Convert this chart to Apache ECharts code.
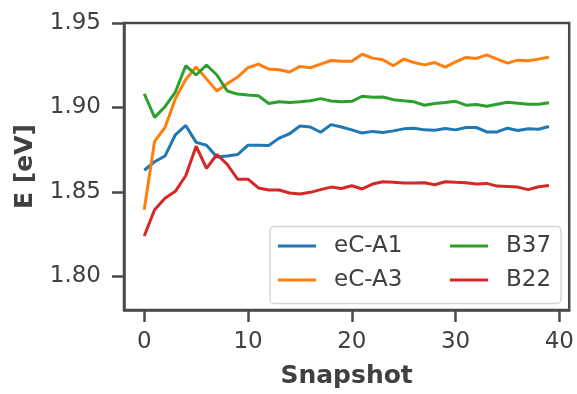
<!DOCTYPE html>
<html>
<head>
<meta charset="utf-8">
<script src="https://cdn.jsdelivr.net/npm/echarts@6/dist/echarts.min.js"></script>
<style>html,body{margin:0;padding:0;background:#fff}#c{width:577px;height:394px}</style>
</head>
<body>
<div id="c"></div>
<script>
const snapshots = [0,1,2,3,4,5,6,7,8,9,10,11,12,13,14,15,16,17,18,19,20,21,22,23,24,25,26,27,28,29,30,31,32,33,34,35,36,37,38,39];
const eCA1 = [1.8628,1.8678,1.8712,1.8838,1.8893,1.8793,1.8776,1.8706,1.8712,1.8721,1.8776,1.8776,1.8774,1.8818,1.8844,1.8890,1.8884,1.8853,1.8898,1.8884,1.8867,1.8848,1.8858,1.8851,1.8861,1.8873,1.8877,1.8867,1.8865,1.8875,1.8867,1.8881,1.8881,1.8855,1.8855,1.8877,1.8863,1.8873,1.8871,1.8887];
const eCA3 = [1.8394,1.8799,1.8881,1.9052,1.9165,1.9239,1.9169,1.9097,1.9140,1.9180,1.9235,1.9256,1.9227,1.9223,1.9210,1.9243,1.9235,1.9256,1.9278,1.9274,1.9274,1.9315,1.9292,1.9282,1.9247,1.9286,1.9266,1.9252,1.9266,1.9239,1.9270,1.9296,1.9290,1.9311,1.9286,1.9262,1.9280,1.9276,1.9286,1.9297];
const B37 = [1.9081,1.8941,1.9004,1.9091,1.9247,1.9192,1.9251,1.9192,1.9097,1.9079,1.9073,1.9069,1.9023,1.9033,1.9029,1.9033,1.9039,1.9052,1.9038,1.9033,1.9036,1.9066,1.9060,1.9062,1.9046,1.9039,1.9033,1.9013,1.9023,1.9029,1.9036,1.9013,1.9017,1.9007,1.9019,1.9030,1.9025,1.9019,1.9019,1.9027];
const B22 = [1.8238,1.8394,1.8462,1.8503,1.8595,1.8770,1.8639,1.8721,1.8663,1.8575,1.8575,1.8523,1.8511,1.8511,1.8493,1.8487,1.8497,1.8513,1.8528,1.8520,1.8536,1.8517,1.8546,1.8560,1.8556,1.8552,1.8552,1.8554,1.8542,1.8560,1.8556,1.8554,1.8546,1.8550,1.8534,1.8532,1.8528,1.8513,1.8530,1.8538];
const xTicks = [0,10,20,30,40];
const yTicks = [1.80,1.85,1.90,1.95];
const seriesNames = ['eC-A1','eC-A3','B37','B22'];
const seriesValues = [eCA1, eCA3, B37, B22];
const colors = ['#1f77b4','#ff7f0e','#2ca02c','#d62728'];

const FONT = 'DejaVu Sans';
const TXT = '#404040';
const AX = '#4a4a4a';

const chart = echarts.init(document.getElementById('c'), null, {renderer:'canvas'});
chart.setOption({
  animation: false,
  backgroundColor: '#fff',
  grid: {left: 124, top: 23, width: 448, height: 290.5, show: true, borderColor: AX, borderWidth: 2.5, backgroundColor: 'transparent'},
  xAxis: {
    type: 'value', min: -1.95, max: 40.95,
    name: 'Snapshot', nameLocation: 'middle', nameGap: 54,
    nameTextStyle: {fontFamily: FONT, fontSize: 25, fontWeight: 'bold', color: TXT},
    axisLine: {show: true, onZero: false, lineStyle: {color: AX, width: 2.5}},
    axisTick: {show: true, length: 12, customValues: xTicks, lineStyle: {color: AX, width: 2.5}},
    axisLabel: {customValues: xTicks, margin: 21, fontFamily: FONT, fontSize: 23, color: TXT},
    splitLine: {show: false}
  },
  yAxis: {
    type: 'value', min: 1.78, max: 1.95,
    name: 'E [eV]', nameLocation: 'middle', nameGap: 86, nameRotate: 90,
    nameTextStyle: {fontFamily: FONT, fontSize: 25, fontWeight: 'bold', color: TXT},
    axisLine: {show: true, onZero: false, lineStyle: {color: AX, width: 2.5}},
    axisTick: {show: true, length: 12, customValues: yTicks, lineStyle: {color: AX, width: 2.5}},
    axisLabel: {customValues: yTicks, margin: 23, fontFamily: FONT, fontSize: 23, color: TXT, formatter: v => v.toFixed(2)},
    splitLine: {show: false}
  },
  graphic: [{
    type: 'rect', z: 50,
    shape: {x: 270, y: 226.5, width: 291, height: 77, r: 4},
    style: {fill: 'rgba(255,255,255,0.85)', stroke: '#d6d6d6', lineWidth: 1.5}
  }],
  legend: [
    {data: [seriesNames[0], seriesNames[1]], orient: 'vertical', left: 278, top: 234, padding: 0, itemGap: 10, z: 60,
     icon: 'rect', itemWidth: 38, itemHeight: 3,
     textStyle: {fontFamily: FONT, fontSize: 23, color: TXT, lineHeight: 24, padding: [0,0,0,13]}},
    {data: [seriesNames[2], seriesNames[3]], orient: 'vertical', left: 450, top: 234, padding: 0, itemGap: 10, z: 60,
     icon: 'rect', itemWidth: 38, itemHeight: 3,
     textStyle: {fontFamily: FONT, fontSize: 23, color: TXT, lineHeight: 24, padding: [0,0,0,13]}}
  ],
  series: seriesNames.map((n, k) => ({
    name: n, type: 'line', showSymbol: false, symbol: 'none',
    color: colors[k],
    lineStyle: {width: 3, color: colors[k]},
    data: snapshots.map((s, i) => [s, seriesValues[k][i]])
  }))
});
</script>
</body>
</html>
